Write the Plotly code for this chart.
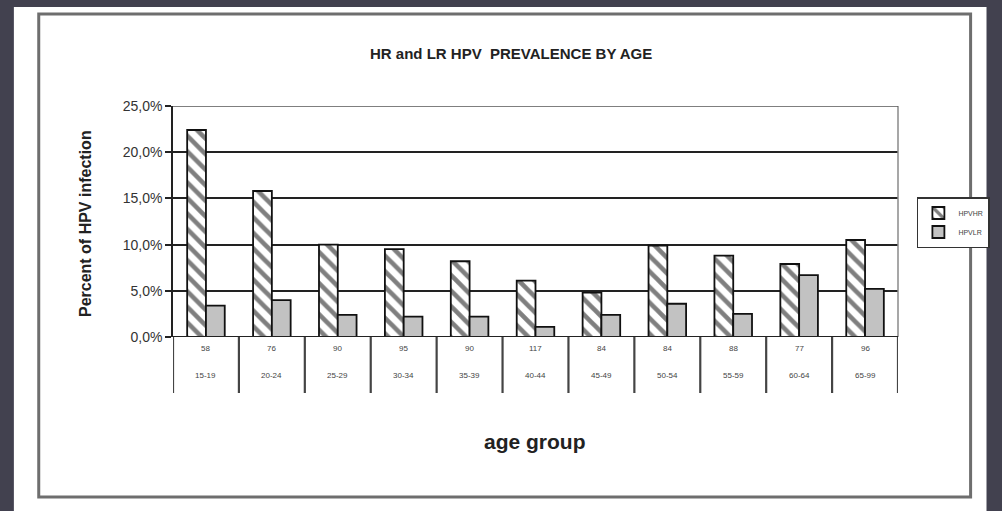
import plotly.graph_objects as go

# Age groups, sample sizes and prevalence (%) of high- and low-risk HPV
age_groups = ["15-19", "20-24", "25-29", "30-34", "35-39", "40-44",
              "45-49", "50-54", "55-59", "60-64", "65-99"]
sample_sizes = ["58", "76", "90", "95", "90", "117", "84", "84", "88", "77", "96"]
hpv_hr = [22.4, 15.8, 10.0, 9.5, 8.2, 6.1, 4.8, 9.9, 8.8, 7.9, 10.5]
hpv_lr = [3.4, 4.0, 2.4, 2.2, 2.2, 1.1, 2.4, 3.6, 2.5, 6.7, 5.2]
y_ticks = [0, 5, 10, 15, 20, 25]
y_tick_text = [f"{v:.1f}%".replace(".", ",") for v in y_ticks]

W, H = 1002, 511
PL, PR, PT, PB = 173, 902, 106, 337  # plot area in pixels
ph = PB - PT

def py(pix):
    """Pixel row -> paper y coordinate."""
    return (PB - pix) / ph

def px(pix):
    """Pixel column -> paper x coordinate."""
    return (pix - PL) / (PR - PL)

font_family = "Arial, Liberation Sans, sans-serif"
xs = list(range(len(age_groups)))

fig = go.Figure()
fig.add_trace(go.Bar(
    x=xs, y=hpv_hr, name="HPVHR",
    marker=dict(color="white", line=dict(color="#111", width=1.8),
                pattern=dict(shape="\\", fgcolor="#000", bgcolor="white",
                             size=11, solidity=0.42)),
))
fig.add_trace(go.Bar(
    x=xs, y=hpv_lr, name="HPVLR",
    marker=dict(color="#c2c2c2", line=dict(color="#111", width=1.8)),
))

shapes = [
    # white sheet on dark surround
    dict(type="rect", xref="paper", yref="paper", layer="below",
         x0=px(13), x1=px(991), y0=py(7), y1=py(511),
         fillcolor="white", line=dict(width=0)),
    # chart border
    dict(type="rect", xref="paper", yref="paper", layer="below",
         x0=px(38), x1=px(975), y0=py(14), y1=py(497),
         fillcolor="rgba(0,0,0,0)", line=dict(color="#6e6e6e", width=3)),
    # right edge of plot area
    dict(type="line", xref="paper", yref="paper",
         x0=1, x1=1, y0=0, y1=1, line=dict(color="#8a8a8a", width=1.5)),
    # top gridline at the axis maximum
    dict(type="line", xref="paper", yref="y",
         x0=0, x1=1, y0=y_ticks[-1], y1=y_ticks[-1],
         line=dict(color="#555", width=1.6)),
    # baseline
    dict(type="line", xref="paper", yref="y",
         x0=0, x1=1, y0=0, y1=0, line=dict(color="#222", width=2)),
]
# category separators for the table below the axis
for i in range(len(age_groups) + 1):
    shapes.append(dict(type="line", xref="x", yref="paper",
                       x0=i - 0.5, x1=i - 0.5, y0=0, y1=py(393),
                       line=dict(color="#444", width=2.2)))

annotations = [
    dict(text="<b>HR and LR HPV  PREVALENCE BY AGE</b>", xref="paper", yref="paper",
         x=px(513), y=py(43), showarrow=False,
         font=dict(family=font_family, size=15, color="#222")),
    dict(text="<b>Percent of HPV infection</b>", xref="paper", yref="paper",
         x=px(74), y=py(224), showarrow=False, textangle=-90,
         font=dict(family=font_family, size=16, color="#222")),
    dict(text="<b>age group</b>", xref="paper", yref="paper",
         x=px(537), y=py(455), showarrow=False,
         font=dict(family=font_family, size=21, color="#222")),
]
for i, (n, a) in enumerate(zip(sample_sizes, age_groups)):
    annotations.append(dict(text=n, xref="x", yref="paper", x=i, y=py(355),
                            showarrow=False,
                            font=dict(family=font_family, size=8, color="#444")))
    annotations.append(dict(text=a, xref="x", yref="paper", x=i, y=py(382),
                            showarrow=False,
                            font=dict(family=font_family, size=8, color="#444")))

fig.update_layout(
    width=W, height=H,
    margin=dict(l=PL, r=W - PR, t=PT, b=H - PB, pad=0),
    paper_bgcolor="#42414f", plot_bgcolor="white",
    barmode="group", bargap=0.43, bargroupgap=0,
    showlegend=True,
    legend=dict(x=px(921), y=py(197), xanchor="left", yanchor="top",
                bordercolor="#333", borderwidth=1.5, bgcolor="white",
                font=dict(family=font_family, size=7, color="#444"),
                itemwidth=30, tracegroupgap=2),
    shapes=shapes, annotations=annotations,
    xaxis=dict(range=[-0.5, len(age_groups) - 0.5], showticklabels=False,
               showgrid=False, zeroline=False, showline=False, ticks=""),
    yaxis=dict(range=[0, 25], tickvals=y_ticks, ticktext=y_tick_text,
               showgrid=True, gridcolor="#222", gridwidth=1.6,
               zeroline=False, showline=True, linecolor="#222", linewidth=1.6,
               ticks="outside", ticklen=6, tickcolor="#222", tickwidth=1.5,
               tickfont=dict(family=font_family, size=14, color="#333")),
)

fig.write_html("out.html")
